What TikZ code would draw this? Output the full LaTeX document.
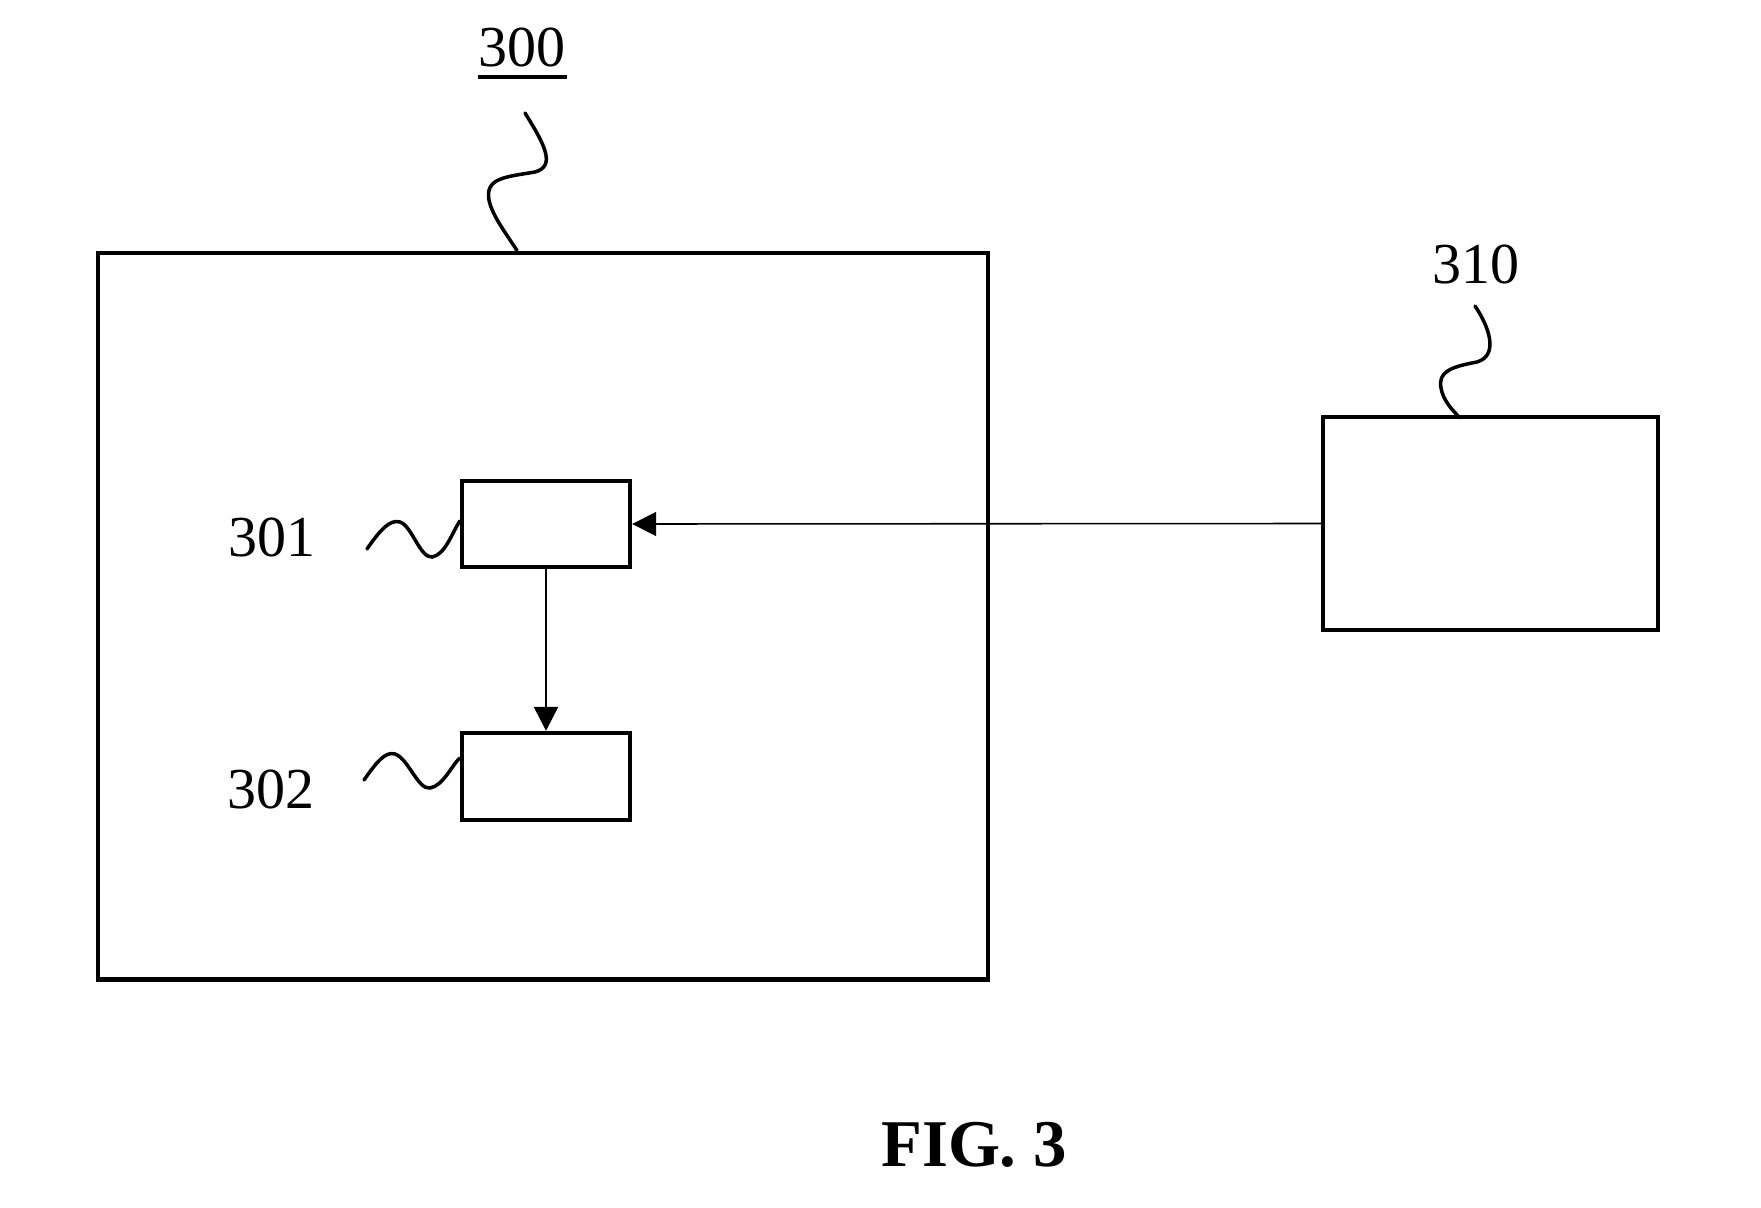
\documentclass[tikz,border=0pt]{standalone}
\usepackage{fontspec}
\setmainfont{Liberation Serif}
\usetikzlibrary{arrows.meta}
\tikzset{
  ubox/.style={draw=black,line width=1.25pt,inner sep=0pt,minimum width=#1},
  arr/.style={-{Triangle[length=6.8pt,width=6.8pt]},line width=0.45pt},
  lead/.style={line width=1pt,line cap=round},
  lbl/.style={font=\fontsize{16.5}{18}\selectfont,inner sep=0pt},
}

\begin{document}
\begin{tikzpicture}[x=0.1mm,y=-0.1mm]
        \useasboundingbox (0,0) rectangle (1761,1208);
        % boxes
        \node[ubox=89.06mm,minimum height=72.66mm] (b300) at (543,616) {};
        \node[ubox=16.8mm,minimum height=8.6mm] (b301) at (546,524) {};
        \node[ubox=16.8mm,minimum height=8.7mm] (b302) at (546,776.5) {};
        \node[ubox=33.5mm,minimum height=21.3mm] (b310) at (1490.5,523.5) {};
        % labels
        \node[lbl] (l300) at (522,47.5) {300};
        \draw[line width=1.1pt] ([yshift=-2.6pt]l300.south west) -- ([yshift=-2.6pt,xshift=0.3pt]l300.south east);
        \node[lbl] (l310) at (1476,264) {310};
        \node[lbl] (l301) at (272,537.5) {301};
        \node[lbl] (l302) at (271,789) {302};
        \node[font=\fontsize{19}{22}\selectfont\bfseries,inner sep=0pt] (fig) at (974,1145) {FIG. 3};
        % lead lines
        \draw[lead] (525,113) .. controls (545,145) and (556,166) .. (535,172) .. controls (505,177) and (485,178) .. (489,200) .. controls (492,215) and (505,232) .. ([xshift=-2.6mm]b300.north);
        \draw[lead] (1475,306) .. controls (1488,325) and (1500,355) .. (1477,362) .. controls (1450,367) and (1438,372) .. (1441,388) .. controls (1443,400) and (1452,410) .. ([xshift=-3.05mm,yshift=-0.3mm]b310.north);
        \draw[lead] (367,549) .. controls (380,530) and (390,519) .. (400,522) .. controls (412,526) and (420,558) .. (432,557) .. controls (445,555) and (452,533) .. ([yshift=0.3mm]b301.west);
        \draw[lead] (364,780) .. controls (376,763) and (385,751) .. (395,754) .. controls (408,758) and (418,790) .. (430,788) .. controls (443,786) and (452,765) .. ([yshift=1.85mm]b302.west);
        % connectors
        \draw[arr] (b310.west) -- (b301.east);
        \draw[arr,line width=0.7pt] (b301.south) -- (b302.north);
\end{tikzpicture}
\end{document}
